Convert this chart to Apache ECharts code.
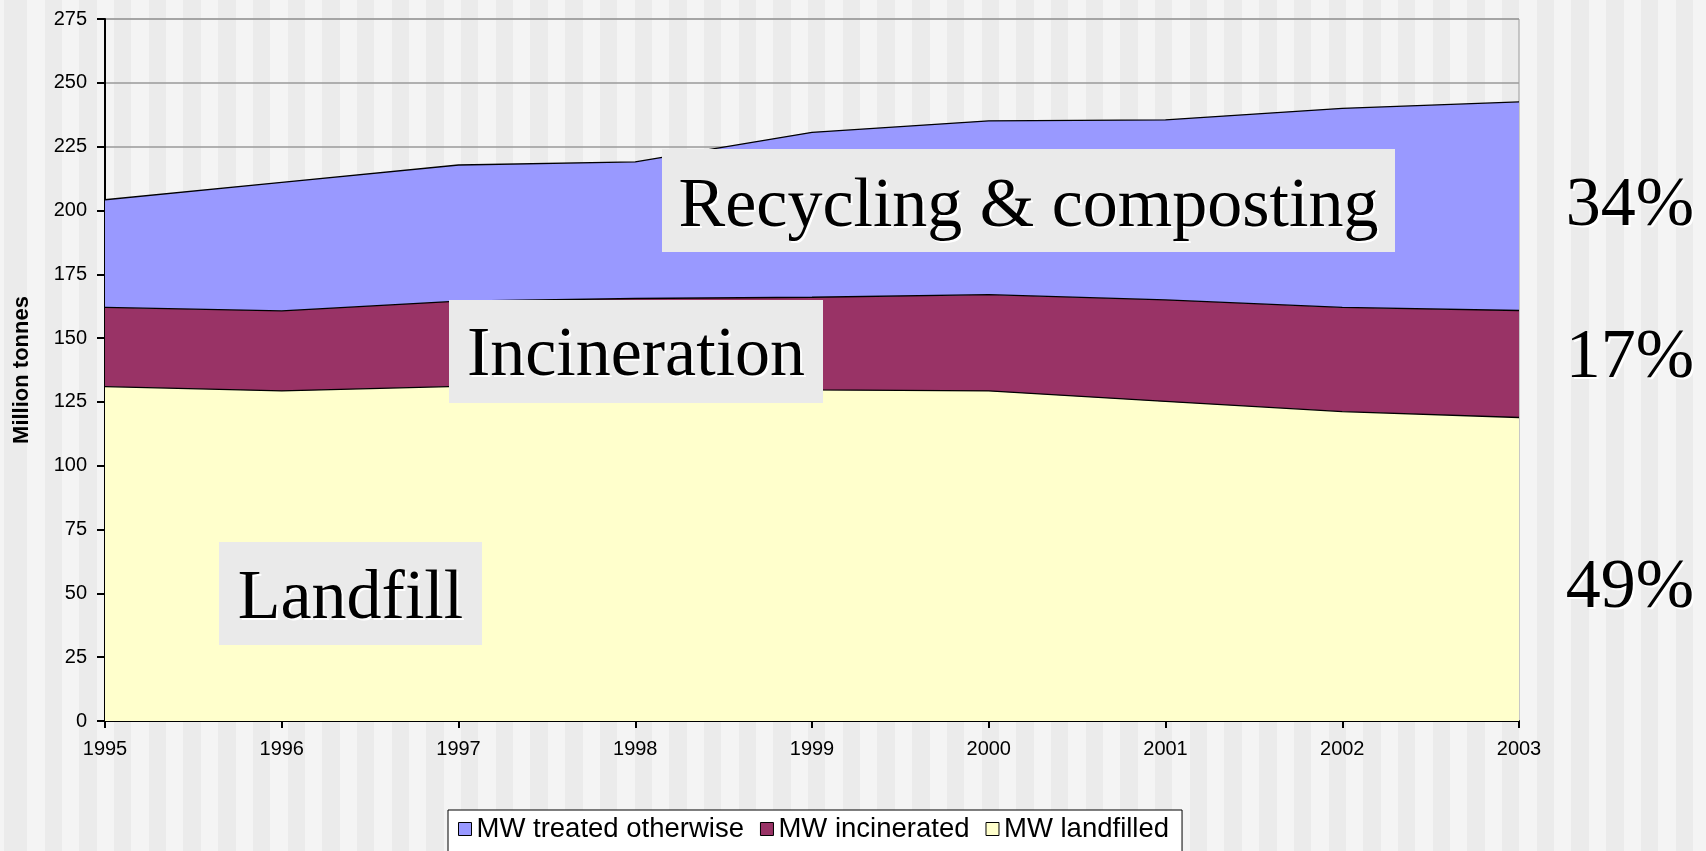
<!DOCTYPE html>
<html>
<head>
<meta charset="utf-8">
<title>Municipal waste treatment</title>
<script src="https://cdn.jsdelivr.net/npm/echarts@6/dist/echarts.min.js"></script>
<style>
    html, body { margin: 0; padding: 0; }
    body {
        width: 1706px; height: 851px; overflow: hidden;
        background: repeating-linear-gradient(90deg, #ebebeb 0, #ebebeb 17.35px, #f4f4f4 17.35px, #f4f4f4 34.7px);
        background-position: 10px 0;
    }
    #main { width: 1706px; height: 851px; }
</style>
</head>
<body>
<div id="main"></div>
<script>
var years = ['1995', '1996', '1997', '1998', '1999', '2000', '2001', '2002', '2003'];
// million tonnes, stacked bottom-up
var landfilled = [131.0, 129.3, 131.1, 130.5, 129.7, 129.3, 125.2, 121.2, 118.9];
var incinerated = [31.0, 31.4, 33.4, 35.0, 36.3, 37.7, 39.8, 40.8, 41.9];
var treatedOtherwise = [42.2, 50.3, 53.3, 53.5, 64.6, 68.1, 70.5, 78.0, 81.7];
var seriesNames = ['MW treated otherwise', 'MW incinerated', 'MW landfilled'];
var boxLabels = ['Recycling & composting', 'Incineration', 'Landfill'];
var shareLabels = ['34%', '17%', '49%'];

var serif = '"Liberation Serif", "Times New Roman", serif';
var sans = '"Liberation Sans", Arial, sans-serif';

function areaSeries(name, data, color) {
    return {
        name: name,
        type: 'line',
        stack: 'total',
        data: data,
        symbol: 'none',
        showSymbol: false,
        lineStyle: { color: '#000', width: 1.3 },
        areaStyle: { color: color, opacity: 1 },
        itemStyle: { color: color, borderColor: '#000', borderWidth: 1 },
        emphasis: { disabled: true },
        silent: true
    };
}

// big serif text with a white drop shadow, like the slide
function bigText(x, y, text) {
    var base = { font: '70px ' + serif, align: 'center', verticalAlign: 'middle', text: text };
    return [
        { type: 'text', z: 101, x: x + 2, y: y + 2, style: Object.assign({ fill: '#fff' }, base) },
        { type: 'text', z: 102, x: x, y: y, style: Object.assign({ fill: '#000' }, base) }
    ];
}

function labelBox(x, y, w, h, text, textY) {
    return [{ type: 'rect', z: 100, shape: { x: x, y: y, width: w, height: h }, style: { fill: '#eaeaea' } }]
        .concat(bigText(x + w / 2, textY, text));
}

var graphics = []
    .concat(labelBox(662, 149, 733, 103, boxLabels[0], 208))
    .concat(labelBox(449, 300, 374, 103, boxLabels[1], 357))
    .concat(labelBox(219, 542, 263, 103, boxLabels[2], 600))
    .concat(bigText(1630, 207, shareLabels[0]))
    .concat(bigText(1630, 359, shareLabels[1]))
    .concat(bigText(1630, 589, shareLabels[2]));

var chart = echarts.init(document.getElementById('main'));
chart.setOption({
    animation: false,
    backgroundColor: 'transparent',
    textStyle: { fontFamily: sans },
    grid: {
        left: 105, right: 187, top: 19, bottom: 130,
        outerBoundsMode: 'none',
        show: true, borderColor: '#9a9a9a', borderWidth: 1, backgroundColor: 'transparent'
    },
    legend: {
        data: seriesNames,
        left: 448, top: 810,
        icon: 'rect', itemWidth: 13, itemHeight: 13, itemGap: 16,
        padding: [5, 13, 20, 10],
        backgroundColor: '#fff', borderColor: '#000', borderWidth: 1,
        itemStyle: { borderColor: '#000', borderWidth: 1 },
        textStyle: { fontSize: 27.5, color: '#000', fontFamily: sans },
        selectedMode: false
    },
    xAxis: {
        type: 'category',
        data: years,
        boundaryGap: false,
        axisLine: { lineStyle: { color: '#000', width: 2 } },
        axisTick: { show: true, length: 7, lineStyle: { color: '#000', width: 2 }, alignWithLabel: true },
        axisLabel: { fontSize: 20, color: '#000', margin: 18, fontFamily: sans },
        splitLine: { show: false }
    },
    yAxis: {
        type: 'value',
        min: 0, max: 275, interval: 25,
        name: 'Million tonnes',
        nameLocation: 'middle',
        nameGap: 72,
        nameRotate: 90,
        nameTextStyle: { fontSize: 22, fontWeight: 'bold', color: '#000', fontFamily: sans },
        axisLine: { show: true, lineStyle: { color: '#000', width: 2 } },
        axisTick: { show: true, length: 8, lineStyle: { color: '#000', width: 2 } },
        axisLabel: { fontSize: 20, color: '#000', margin: 18, fontFamily: sans },
        splitLine: { show: true, lineStyle: { color: '#9a9a9a', width: 1.5 } }
    },
    series: [
        areaSeries(seriesNames[2], landfilled, '#ffffcc'),
        areaSeries(seriesNames[1], incinerated, '#993366'),
        areaSeries(seriesNames[0], treatedOtherwise, '#9999ff')
    ],
    graphic: graphics
});
</script>
</body>
</html>
